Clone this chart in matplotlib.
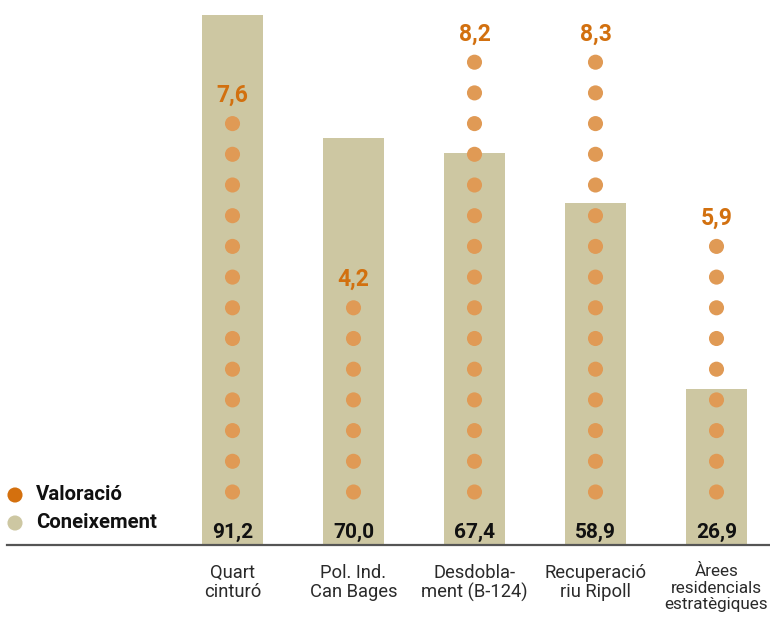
import matplotlib
matplotlib.use("Agg")
import matplotlib.pyplot as plt
import numpy as np

# ---- data ----
categories = ["Quart\ncinturó", "Pol. Ind.\nCan Bages", "Desdobla-\nment (B-124)",
              "Recuperació\nriu Ripoll", "Àrees\nresidencials\nestratègiques"]
coneixement = [91.2, 70.0, 67.4, 58.9, 26.9]
valoracio = [7.6, 4.2, 8.2, 8.3, 5.9]
valoracio_dots = [13, 7, 15, 15, 9]
legend_labels = ["Valoració", "Coneixement"]

def fmt(v):
    return f"{v:.1f}".replace(".", ",")

# ---- style ----
BAR = "#CDC7A2"
DOT = "#E09A55"
ORANGE_TXT = "#D2700F"
LEG_ORANGE = "#D4700E"
FONT = "Roboto"
plt.rcParams["font.family"] = [FONT, "DejaVu Sans"]

W, H = 770, 623
fig = plt.figure(figsize=(W / 100, H / 100), dpi=100)
base_px = 78           # baseline distance from bottom
ax = fig.add_axes([0, base_px / H, 1, 1 - base_px / H])
ppu = 530 / 91.2       # pixels per data unit
ax.set_ylim(0, (H - base_px) / ppu)
x0, dx = 232.5, 121.0
ax.set_xlim(-x0 / dx, (W - x0) / dx)
ax.axis("off")

x = np.arange(len(categories))
ax.bar(x, coneixement, width=61 / dx, color=BAR, zorder=1)

dot_base = 53 / ppu
dot_step = 30.7 / ppu
for xi, n, v in zip(x, valoracio_dots, valoracio):
    ys = dot_base + np.arange(n) * dot_step
    ax.scatter(np.full(n, xi), ys, s=118, color=DOT, edgecolor="none", zorder=3)
    ax.text(xi, ys[-1] + 21.7 / ppu, fmt(v), ha="center", va="baseline",
            fontsize=16.5, fontweight="bold", color=ORANGE_TXT, zorder=4)

for xi, c in zip(x, coneixement):
    ax.text(xi, 6.7 / ppu, fmt(c), ha="center", va="baseline",
            fontsize=15, fontweight="bold", color="#111111", zorder=4)

ax.axhline(0, xmin=7 / W, xmax=1, color="#555555", lw=1.6, zorder=5, clip_on=False)

for xi, lab in zip(x, categories):
    three = lab.count("\n") >= 2
    fs = 12.3 if three else 13.2
    ls = 1.14 if three else 1.05
    ax.text(xi, -19 / ppu, lab, ha="center", va="top", fontsize=fs,
            color="#2a2a2a", linespacing=ls, clip_on=False)

# legend
lx = (15 - x0) / dx
ly = [(H - base_px - 495) / ppu, (H - base_px - 523) / ppu]
ax.scatter([lx], [ly[0]], s=118, color=LEG_ORANGE, edgecolor="none", clip_on=False)
ax.scatter([lx], [ly[1]], s=118, color=BAR, edgecolor="none", clip_on=False)
for yy, lab in zip(ly, legend_labels):
    ax.text((36 - x0) / dx, yy, lab, ha="left", va="center", fontsize=14.7,
            fontweight="bold", color="#111111")

fig.savefig("out.png", dpi=100)
